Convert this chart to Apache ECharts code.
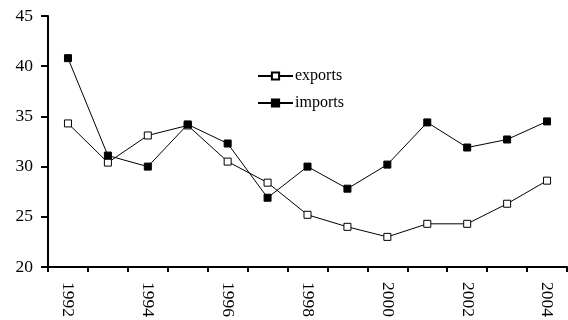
<!DOCTYPE html>
<html>
<head>
<meta charset="utf-8">
<script src="https://cdn.jsdelivr.net/npm/echarts@6/dist/echarts.min.js"></script>
<style>
  html, body { margin: 0; padding: 0; background: #fff; }
  #chart { width: 568px; height: 320px; }
</style>
</head>
<body>
<div id="chart"></div>
<script>
// Annual shares, 1992-2004
var years = ['1992','1993','1994','1995','1996','1997','1998','1999','2000','2001','2002','2003','2004'];
var exportsData = [34.3, 30.4, 33.1, 34.1, 30.5, 28.4, 25.2, 24.0, 23.0, 24.3, 24.3, 26.3, 28.6];
var importsData = [40.8, 31.1, 30.0, 34.2, 32.3, 26.9, 30.0, 27.8, 30.2, 34.4, 31.9, 32.7, 34.5];
var yTicks = { min: 20, max: 45, interval: 5 };

var FONT = '"Liberation Serif", "Times New Roman", serif';
var chart = echarts.init(document.getElementById('chart'), null, { renderer: 'canvas' });

chart.setOption({
  animation: false,
  backgroundColor: '#ffffff',
  textStyle: { fontFamily: FONT, color: '#000' },
  grid: { left: 48, right: 1, top: 16, bottom: 52, containLabel: false },
  legend: {
    orient: 'vertical',
    left: 252,
    top: 63,
    itemWidth: 35,
    itemHeight: 9,
    itemGap: 11,
    textStyle: { fontFamily: FONT, fontSize: 16, color: '#000', padding: [0, 0, 0, -3] },
    data: ['exports', 'imports']
  },
  xAxis: {
    type: 'category',
    data: years,
    boundaryGap: true,
    axisLine: { lineStyle: { color: '#000', width: 2 } },
    axisTick: { show: true, interval: 0, length: 5, lineStyle: { color: '#000', width: 2 } },
    axisLabel: {
      interval: 1,
      rotate: -90,
      margin: 15,
      fontFamily: FONT,
      fontSize: 17.5,
      color: '#000'
    },
    splitLine: { show: false }
  },
  yAxis: {
    type: 'value',
    min: yTicks.min,
    max: yTicks.max,
    interval: yTicks.interval,
    axisLine: { show: true, lineStyle: { color: '#000', width: 2 } },
    axisTick: { show: true, length: 7, lineStyle: { color: '#000', width: 2 } },
    axisLabel: { margin: 15, fontFamily: FONT, fontSize: 17.5, color: '#000' },
    splitLine: { show: false }
  },
  series: [
    {
      name: 'exports',
      type: 'line',
      data: exportsData,
      symbol: 'rect',
      symbolSize: 7,
      lineStyle: { color: '#000', width: 1 },
      itemStyle: { color: '#fff', borderColor: '#000', borderWidth: 1 }
    },
    {
      name: 'imports',
      type: 'line',
      data: importsData,
      symbol: 'rect',
      symbolSize: 7,
      lineStyle: { color: '#000', width: 1 },
      itemStyle: { color: '#000', borderColor: '#000', borderWidth: 1 }
    }
  ]
});
</script>
</body>
</html>
